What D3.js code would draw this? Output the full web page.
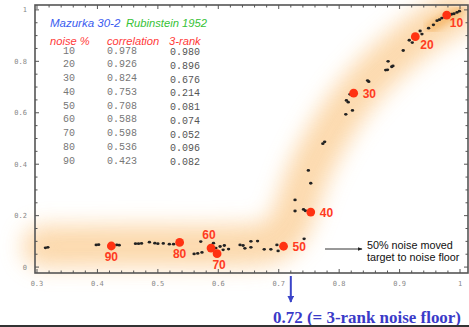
<!DOCTYPE html>
<html>
<head>
<meta charset="utf-8">
<script src="https://cdn.jsdelivr.net/npm/d3@7/dist/d3.min.js"></script>
<style>
  html, body { margin: 0; padding: 0; background: #fff; }
  svg { display: block; }
</style>
</head>
<body>
<svg id="chart" width="469" height="327"></svg>
<script>
// Noise levels with their correlation and 3-rank scores (highlighted points)
const noisePct    = [10, 20, 30, 40, 50, 60, 70, 80, 90];
const correlation = [0.978, 0.926, 0.824, 0.753, 0.708, 0.588, 0.598, 0.536, 0.423];
const threeRank   = [0.980, 0.896, 0.676, 0.214, 0.081, 0.074, 0.052, 0.096, 0.082];
// Table strings as printed
const corrText    = ["0.978", "0.926", "0.824", "0.753", "0.708", "0.588", "0.598", "0.536", "0.423"];
const rankText    = ["0.980", "0.896", "0.676", "0.214", "0.081", "0.074", "0.052", "0.096", "0.082"];

// Label placement for each highlighted point
const labelSide   = ["rb", "rb", "r", "r", "r", "t", "b", "b", "b"];

// Remaining (correlation, 3-rank) samples
const sampleCorr = [
  0.314, 0.318, 0.398, 0.402, 0.432, 0.436, 0.463, 0.468, 0.473, 0.486,
  0.495, 0.500, 0.509, 0.519, 0.526, 0.560, 0.566, 0.573, 0.571, 0.592,
  0.596, 0.603, 0.608, 0.610, 0.617, 0.636, 0.641, 0.644, 0.654, 0.654,
  0.665, 0.676, 0.687, 0.697, 0.699, 0.742,
  0.727, 0.727, 0.741, 0.744, 0.749, 0.753, 0.773, 0.776, 0.811, 0.822,
  0.812, 0.815, 0.818, 0.849, 0.847, 0.877, 0.880, 0.881, 0.887, 0.889,
  0.906, 0.916, 0.921, 0.934, 0.937, 0.948, 0.956, 0.962, 0.966, 0.970,
  0.975, 0.986, 0.990, 0.995, 0.999
];
const sampleRank = [
  0.075, 0.077, 0.086, 0.087, 0.086, 0.085, 0.091, 0.091, 0.092, 0.097,
  0.093, 0.091, 0.092, 0.089, 0.089, 0.051, 0.053, 0.057, 0.099, 0.093,
  0.074, 0.080, 0.067, 0.084, 0.070, 0.086, 0.084, 0.073, 0.100, 0.077,
  0.101, 0.069, 0.069, 0.086, 0.063, 0.110,
  0.261, 0.218, 0.224, 0.219, 0.376, 0.326, 0.480, 0.487, 0.594, 0.609,
  0.648, 0.641, 0.672, 0.721, 0.725, 0.766, 0.767, 0.800, 0.779, 0.782,
  0.842, 0.882, 0.873, 0.918, 0.906, 0.929, 0.942, 0.958, 0.962, 0.968,
  0.972, 0.983, 0.985, 0.990, 0.995
];

// Trend band drawn as a soft glow under the points
const bandX = [0.31, 0.45, 0.60, 0.665, 0.698, 0.716, 0.730, 0.748, 0.775, 0.81, 0.85, 0.90, 0.95, 0.995];
const bandY = [0.080, 0.082, 0.082, 0.088, 0.110, 0.160, 0.240, 0.360, 0.485, 0.615, 0.730, 0.840, 0.930, 0.990];

const xTicks = [0.3, 0.4, 0.5, 0.6, 0.7, 0.8, 0.9, 1];
const yTicks = [0, 0.2, 0.4, 0.6, 0.8, 1];
const noiseFloor = 0.72;

const svg = d3.select("#chart");
const fL = 35, fR = 468, fT = 5, fB = 273;

const x = d3.scaleLinear().domain([0.2967, 1.0132]).range([fL, fR]);
const y = d3.scaleLinear().domain([-0.023, 1.019]).range([fB, fT]);

const defs = svg.append("defs");
defs.append("filter").attr("id", "glow").attr("x", "-30%").attr("y", "-30%")
  .attr("width", "160%").attr("height", "160%")
  .append("feGaussianBlur").attr("stdDeviation", 11);
defs.append("filter").attr("id", "glow2").attr("x", "-20%").attr("y", "-20%")
  .attr("width", "140%").attr("height", "140%")
  .append("feGaussianBlur").attr("stdDeviation", 4);

// Glow band
const band = d3.line().x(d => x(d[0])).y(d => y(d[1])).curve(d3.curveCatmullRom);
const bandPts = bandX.map((v, i) => [v, bandY[i]]);
svg.append("path").attr("d", band(bandPts))
  .attr("fill", "none").attr("stroke", "#fcd6a6").attr("stroke-width", 42)
  .attr("stroke-linecap", "round").attr("filter", "url(#glow)").attr("opacity", 0.85);
svg.append("path").attr("d", band(bandPts))
  .attr("fill", "none").attr("stroke", "#fbd09a").attr("stroke-width", 14)
  .attr("stroke-linecap", "round").attr("filter", "url(#glow)").attr("opacity", 0.4);
// Brighter stretch at the top end
svg.append("path").attr("d", band(bandPts.slice(-2).concat([[1.0, 0.997]])))
  .attr("fill", "none").attr("stroke", "#f2a646").attr("stroke-width", 7)
  .attr("stroke-linecap", "round").attr("filter", "url(#glow2)").attr("opacity", 0.85);

// Frame
const frame = svg.append("g");
frame.append("rect").attr("x", fL).attr("y", fT)
  .attr("width", fR - fL).attr("height", fB - fT)
  .attr("fill", "none").attr("stroke", "#555").attr("stroke-width", 1.6);

// Inward ticks on all four sides
const xMinor = d3.range(0.30, 1.0001, 0.02);
const yMinor = d3.range(0, 1.0001, 0.05);
const tickG = frame.append("g").attr("stroke", "#555").attr("stroke-width", 1);
xMinor.forEach(v => {
  const major = xTicks.some(t => Math.abs(t - v) < 1e-6);
  const len = major ? 4 : 2.5;
  tickG.append("line").attr("x1", x(v)).attr("x2", x(v)).attr("y1", fB).attr("y2", fB - len);
  tickG.append("line").attr("x1", x(v)).attr("x2", x(v)).attr("y1", fT).attr("y2", fT + len);
});
yMinor.forEach(v => {
  const major = yTicks.some(t => Math.abs(t - v) < 1e-6);
  const len = major ? 4 : 2.5;
  tickG.append("line").attr("y1", y(v)).attr("y2", y(v)).attr("x1", fL).attr("x2", fL + len);
  tickG.append("line").attr("y1", y(v)).attr("y2", y(v)).attr("x1", fR).attr("x2", fR - len);
});

const tickFont = "'DejaVu Sans Mono', monospace";
frame.append("g").selectAll("text").data(xTicks).join("text")
  .attr("x", d => x(d)).attr("y", 286).attr("text-anchor", "middle")
  .attr("font-family", tickFont).attr("font-size", 7).attr("fill", "#888")
  .text(d => d3.format("")(d));
frame.append("g").selectAll("text").data(yTicks).join("text")
  .attr("x", 27).attr("y", d => y(d) + 2.5).attr("text-anchor", "end")
  .attr("font-family", tickFont).attr("font-size", 7).attr("fill", "#888")
  .text(d => d3.format("")(d));

// Sample points
svg.append("g").selectAll("ellipse").data(sampleCorr.map((c, i) => [c, sampleRank[i]])).join("ellipse")
  .attr("cx", d => x(d[0])).attr("cy", d => y(d[1]))
  .attr("rx", 1.7).attr("ry", 1.4).attr("fill", "#222");

// Highlighted noise levels
const hi = noisePct.map((n, i) => ({ n, c: correlation[i], r: threeRank[i], side: labelSide[i] }));
svg.append("g").selectAll("circle").data(hi).join("circle")
  .attr("cx", d => x(d.c)).attr("cy", d => y(d.r)).attr("r", 4.4).attr("fill", "#ff3212");

const off = { rb: [5, 12, "start"], r: [9, 4.5, "start"], t: [-2, -9, "middle"], b: [0, 15.5, "middle"] };
svg.append("g").selectAll("text").data(hi).join("text")
  .attr("x", d => x(d.c) + off[d.side][0] + (d.n === 70 ? 2 : 0) - (d.n === 10 ? 2 : 0))
  .attr("y", d => y(d.r) + off[d.side][1])
  .attr("text-anchor", d => off[d.side][2])
  .attr("font-family", "'Liberation Sans', Arial, sans-serif")
  .attr("font-weight", "bold").attr("font-size", 12).attr("fill", "#ff3b1f")
  .text(d => d.n);

// Table of values
const sans = "'Liberation Sans', Arial, sans-serif";
const tbl = svg.append("g");
tbl.append("text").attr("x", 50).attr("y", 26.5).attr("font-family", sans).attr("font-style", "italic")
  .attr("font-size", 11.5).attr("fill", "#3b5cf0").text("Mazurka 30-2");
tbl.append("text").attr("x", 126).attr("y", 26.5).attr("font-family", sans).attr("font-style", "italic")
  .attr("font-size", 11.2).attr("fill", "#36c236").text("Rubinstein 1952");
[["noise %", 50], ["correlation", 107], ["3-rank", 169]].forEach(([t, px]) => {
  tbl.append("text").attr("x", px).attr("y", 44.5).attr("font-family", sans).attr("font-style", "italic")
    .attr("font-size", 11.2).attr("fill", "#ff3a3a").text(t);
});
const mono = "'Liberation Mono', 'Courier New', monospace";
noisePct.forEach((n, i) => {
  const by = 53.5 + i * 13.75;
  tbl.append("text").attr("x", 69).attr("y", by).attr("text-anchor", "middle")
    .attr("font-family", mono).attr("font-size", 10).attr("fill", "#777").text(n);
  tbl.append("text").attr("x", 107).attr("y", by)
    .attr("font-family", mono).attr("font-size", 10).attr("fill", "#777").text(corrText[i]);
  tbl.append("text").attr("x", 170).attr("y", by + 1.7)
    .attr("font-family", mono).attr("font-size", 10).attr("fill", "#555").text(rankText[i]);
});

// Annotation for the 50% noise point
defs.append("marker").attr("id", "ah").attr("viewBox", "0 0 10 10")
  .attr("refX", 9).attr("refY", 5).attr("markerWidth", 5).attr("markerHeight", 5)
  .attr("orient", "auto").append("path").attr("d", "M0,1 L10,5 L0,9 Z").attr("fill", "#222");
svg.append("line").attr("x1", 325).attr("x2", 362).attr("y1", 249).attr("y2", 249)
  .attr("stroke", "#333").attr("stroke-width", 1).attr("marker-end", "url(#ah)");
svg.append("text").attr("x", 367).attr("y", 248.5).attr("font-family", sans).attr("font-size", 10.8)
  .attr("fill", "#111").text("50% noise moved");
svg.append("text").attr("x", 367).attr("y", 260.5).attr("font-family", sans).attr("font-size", 10.8)
  .attr("fill", "#111").text("target to noise floor");

// Noise-floor marker below the axis
defs.append("marker").attr("id", "bh").attr("viewBox", "0 0 10 10")
  .attr("refX", 5).attr("refY", 9).attr("markerWidth", 3.5).attr("markerHeight", 3.5)
  .attr("orient", 0).append("path").attr("d", "M0,0 L10,0 L5,10 Z").attr("fill", "#3a44c8");
svg.append("line").attr("x1", x(noiseFloor)).attr("x2", x(noiseFloor)).attr("y1", 276).attr("y2", 302)
  .attr("stroke", "#3a44c8").attr("stroke-width", 2).attr("marker-end", "url(#bh)");
svg.append("text").attr("x", 273).attr("y", 323)
  .attr("font-family", "'Liberation Serif', 'Times New Roman', serif")
  .attr("font-weight", "bold").attr("font-size", 17.5).attr("fill", "#3a3ac8")
  .attr("textLength", 188).attr("lengthAdjust", "spacingAndGlyphs")
  .text("0.72 (= 3-rank noise floor)");

// Bottom rule
svg.append("line").attr("x1", 0).attr("x2", 469).attr("y1", 326).attr("y2", 326)
  .attr("stroke", "#333").attr("stroke-width", 2);
</script>
</body>
</html>
